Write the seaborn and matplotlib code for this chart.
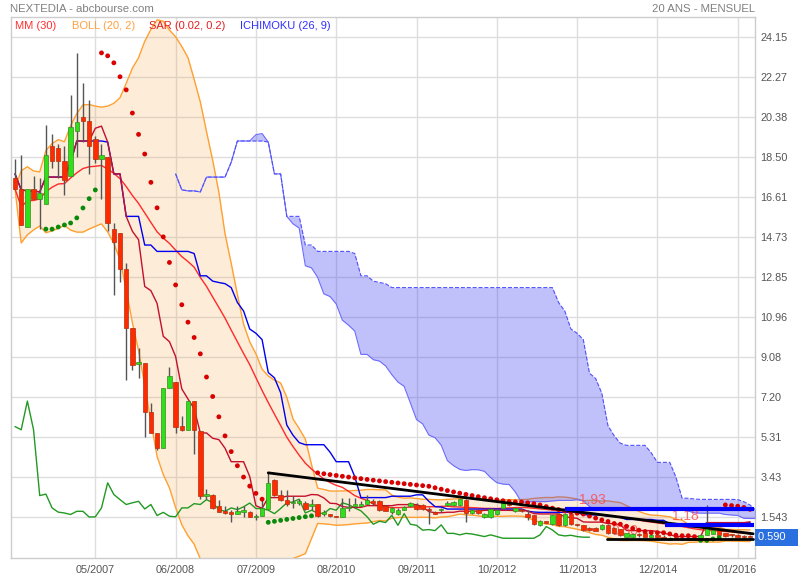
import numpy as np
import pandas as pd
import seaborn as sns
import matplotlib.pyplot as plt
from matplotlib.transforms import blended_transform_factory

# monthly candles, 04/2006 -> 03/2016
opens = [17.5, 17.0, 15.2, 17.0, 16.5, 16.3, 19.0, 18.9, 18.3, 17.6,
         19.7, 20.4, 20.2, 19.35, 18.4, 18.5, 15.1, 14.9, 13.2, 10.45,
         8.75, 8.8, 6.5, 5.5, 4.8, 7.6, 7.9, 5.85, 5.66, 7.0,
         5.6, 2.55, 2.60, 2.08, 1.84, 1.76, 1.66, 1.80, 1.76, 1.55,
         1.58, 1.94, 3.30, 2.60, 2.33, 2.20, 2.21, 2.21, 2.05, 2.13,
         1.70, 1.70, 1.61, 1.55, 1.97, 2.05, 2.05, 2.13, 2.28, 2.28,
         2.05, 1.78, 1.70, 1.89, 2.05, 2.10, 2.10, 1.94, 1.78, 1.86,
         2.10, 2.10, 2.10, 2.36, 1.73, 1.86, 1.55, 1.55, 1.70, 1.97,
         2.17, 1.83, 1.86, 1.70, 1.62, 1.15, 1.31, 1.20, 1.70, 1.15,
         1.66, 1.20, 1.15, 0.97, 1.01, 0.96, 1.17, 1.01, 0.96, 0.62,
         0.62, 0.70, 0.77, 0.62, 0.70, 0.62, 0.46, 0.62, 0.46, 0.46,
         0.46, 0.54, 0.70, 0.74, 0.93, 0.77, 0.70, 0.70, 0.65, 0.65]
highs = [18.4, 18.6, 17.0, 17.6, 17.5, 20.0, 19.6, 19.1, 19.0, 21.4,
         23.4, 22.0, 21.2, 19.5, 19.1, 18.5, 15.4, 14.9, 13.5, 10.45,
         9.5, 8.8, 6.9, 5.5, 7.6, 8.6, 7.9, 6.3, 7.0, 7.0,
         5.6, 2.85, 2.62, 2.32, 2.05, 1.89, 2.05, 2.05, 1.81, 1.70,
         2.36, 3.62, 3.33, 2.83, 2.79, 2.52, 2.40, 2.28, 2.39, 2.13,
         1.89, 1.70, 1.61, 2.44, 2.44, 2.44, 2.30, 2.60, 2.40, 2.36,
         2.10, 2.00, 1.95, 2.05, 2.25, 2.21, 2.17, 2.02, 1.83, 1.97,
         2.30, 2.30, 2.40, 2.38, 1.90, 1.90, 1.75, 1.97, 1.90, 2.25,
         2.25, 2.00, 1.90, 1.86, 1.65, 1.40, 1.34, 1.65, 1.72, 1.72,
         1.68, 1.22, 1.18, 1.05, 1.05, 1.20, 1.20, 1.05, 0.99, 0.80,
         0.78, 0.80, 0.80, 0.80, 0.74, 0.68, 0.58, 0.66, 0.58, 0.58,
         0.58, 0.74, 2.11, 1.00, 0.96, 0.80, 0.74, 0.74, 0.68, 0.68]
lows = [17.0, 15.3, 15.2, 16.5, 15.1, 16.3, 18.0, 17.5, 16.7, 17.6,
        18.5, 19.2, 17.7, 18.2, 16.5, 15.0, 12.0, 12.6, 8.0, 8.45,
        8.1, 5.3, 5.5, 4.7, 4.8, 7.6, 5.5, 5.6, 5.66, 4.5,
        2.4, 2.40, 1.90, 1.77, 1.66, 1.29, 1.66, 1.55, 1.54, 1.42,
        1.58, 1.94, 2.55, 2.28, 2.05, 1.97, 2.10, 1.89, 1.89, 1.55,
        1.61, 1.55, 1.55, 1.55, 1.81, 1.97, 2.05, 2.13, 2.10, 1.81,
        1.81, 1.70, 1.65, 1.85, 2.00, 1.89, 1.89, 1.23, 1.66, 1.78,
        2.05, 2.05, 2.08, 1.31, 1.70, 1.70, 1.50, 1.50, 1.65, 1.94,
        2.05, 1.80, 1.80, 1.39, 1.15, 1.12, 1.25, 1.18, 1.12, 1.12,
        1.15, 1.10, 0.90, 0.88, 0.88, 0.94, 0.74, 0.74, 0.66, 0.60,
        0.60, 0.62, 0.60, 0.60, 0.52, 0.52, 0.44, 0.52, 0.44, 0.44,
        0.44, 0.52, 0.68, 0.72, 0.68, 0.60, 0.62, 0.58, 0.52, 0.52]
closes = [17.0, 15.3, 17.0, 16.5, 16.8, 18.6, 18.3, 18.3, 17.4, 19.9,
          20.15, 20.2, 19.0, 18.4, 18.6, 15.4, 14.5, 13.2, 10.45, 8.7,
          8.83, 6.5, 5.5, 4.8, 7.6, 8.2, 5.8, 5.65, 7.0, 5.65,
          2.55, 2.62, 1.97, 1.77, 1.73, 1.66, 1.81, 1.81, 1.54, 1.55,
          1.97, 3.15, 2.60, 2.36, 2.13, 2.21, 2.28, 1.92, 2.13, 1.61,
          1.76, 1.58, 1.55, 1.97, 1.97, 2.17, 2.13, 2.36, 2.21, 1.89,
          1.81, 1.97, 1.89, 2.02, 2.20, 1.94, 1.94, 1.86, 1.70, 1.94,
          2.21, 2.25, 2.38, 1.73, 1.86, 1.73, 1.70, 1.94, 1.86, 2.21,
          2.12, 1.97, 1.83, 1.55, 1.20, 1.34, 1.28, 1.62, 1.15, 1.70,
          1.20, 1.15, 0.92, 0.95, 0.90, 1.17, 0.77, 0.77, 0.70, 0.77,
          0.74, 0.68, 0.62, 0.70, 0.62, 0.54, 0.54, 0.54, 0.54, 0.54,
          0.54, 0.70, 1.09, 0.93, 0.70, 0.65, 0.68, 0.62, 0.59, 0.59]

x_ticks = [13, 26, 39, 52, 65, 78, 91, 104, 117]
x_labels = ['05/2007', '06/2008', '07/2009', '08/2010', '09/2011',
            '10/2012', '11/2013', '12/2014', '01/2016']
y_ticks = [24.15, 22.27, 20.38, 18.50, 16.61, 14.73, 12.85, 10.96,
           9.08, 7.20, 5.31, 3.43, 1.543]
y_labels = ['24.15', '22.27', '20.38', '18.50', '16.61', '14.73', '12.85',
            '10.96', '9.08', '7.20', '5.31', '3.43', '1.543']
last_price = 0.590

# lines drawn by hand on the chart
trend_x = [41, 119.5]
trend_y = [3.62, 0.75]
support_x = [95.8, 119.5]
support_y = [0.50, 0.50]
level_values = [1.93, 1.18]
level_start = [89.0, 105.2]
level_label_x = [91.3, 106.3]

df = pd.DataFrame({'m': np.arange(len(closes)), 'open': opens, 'high': highs,
                   'low': lows, 'close': closes})
c = df['close']

# indicators (min_periods=1 as on the site)
df['mm30'] = c.rolling(30, min_periods=1).mean()
mid = c.rolling(20, min_periods=1).mean()
sd = c.rolling(20, min_periods=1).std(ddof=0).fillna(0)
df['boll_up'] = mid + 2 * sd
df['boll_dn'] = mid - 2 * sd


def midpoint(n):
    return (df['high'].rolling(n, min_periods=1).max() +
            df['low'].rolling(n, min_periods=1).min()) / 2


df['tenkan'] = midpoint(9)
df['kijun'] = midpoint(26)
cloud = pd.DataFrame({'m': df['m'] + 26,
                      'span_a': (df['tenkan'] + df['kijun']) / 2,
                      'span_b': midpoint(52)})
chikou = pd.DataFrame({'m': df['m'] - 26, 'close': c})
chikou = chikou[chikou['m'] >= 0]

# parabolic SAR (0.02, 0.2)
hi, lo = df['high'].values, df['low'].values
sar_m, sar_v, sar_t = [], [], []
s = lo[:5].min()
ep = hi[5]
af = 0.02
trend = 'up'
sar_m.append(5); sar_v.append(s); sar_t.append(trend)
for i in range(6, len(df)):
    s = s + af * (ep - s)
    if trend == 'up':
        s = min(s, lo[i - 1], lo[i - 2])
        if lo[i] < s:
            trend, s, ep, af = 'down', ep, lo[i], 0.02
        elif hi[i] > ep:
            ep, af = hi[i], min(af + 0.02, 0.2)
    else:
        s = max(s, hi[i - 1], hi[i - 2])
        if hi[i] > s:
            trend, s, ep, af = 'up', ep, hi[i], 0.02
        elif lo[i] < ep:
            ep, af = lo[i], min(af + 0.02, 0.2)
    sar_m.append(i); sar_v.append(s); sar_t.append(trend)
sar = pd.DataFrame({'m': sar_m, 'sar': sar_v, 'trend': sar_t})

sns.set_style('white')
plt.rcParams['font.family'] = ['Liberation Sans', 'DejaVu Sans']

fig = plt.figure(figsize=(8, 5.8), dpi=100)
ax = fig.add_axes([11 / 800, 22 / 580, 744 / 800, 541 / 580])

# bollinger
ax.fill_between(df['m'], df['boll_dn'], df['boll_up'], color='#f5a040',
                alpha=0.2, lw=0, zorder=1)
sns.lineplot(data=df, x='m', y='boll_up', ax=ax, color='#ffa030', lw=1, zorder=2)
sns.lineplot(data=df, x='m', y='boll_dn', ax=ax, color='#ffa030', lw=1, zorder=2)

# ichimoku cloud
ax.fill_between(cloud['m'], cloud['span_a'], cloud['span_b'], color='#4040f0',
                alpha=0.33, lw=0, zorder=3)
sns.lineplot(data=cloud, x='m', y='span_a', ax=ax, color='#6a6aff', lw=0.8, zorder=3)
sns.lineplot(data=cloud, x='m', y='span_b', ax=ax, color='#5050ff', lw=0.8,
             linestyle='--', zorder=3)

sns.lineplot(data=chikou, x='m', y='close', ax=ax, color='#229922', lw=1, zorder=4)
sns.lineplot(data=df, x='m', y='mm30', ax=ax, color='#ff2a2a', lw=1, zorder=4)
sns.lineplot(data=df, x='m', y='kijun', ax=ax, color='#0000ee', lw=1, zorder=4)
sns.lineplot(data=df, x='m', y='tenkan', ax=ax, color='#c4102c', lw=1, zorder=4)

# candles
up = df['close'] >= df['open']
ax.vlines(df['m'], df['low'], df['high'], color='#555555', lw=1, zorder=5)
body = (df['close'] - df['open']).abs().clip(lower=0.05)
ax.bar(df['m'], body, bottom=df[['open', 'close']].min(axis=1), width=0.72,
       color=np.where(up, '#2ee01a', '#ff2a00'),
       edgecolor=np.where(up, '#3a8a20', '#b03010'), lw=0.5, zorder=6)

# SAR dots
sns.scatterplot(data=sar, x='m', y='sar', hue='trend', ax=ax,
                palette={'up': '#0a8a0a', 'down': '#d80000'}, s=12,
                linewidth=0, legend=False, zorder=7)

# hand drawn lines
sns.lineplot(x=trend_x, y=trend_y, ax=ax, color='black', lw=2, zorder=8)
sns.lineplot(x=support_x, y=support_y, ax=ax, color='black', lw=2, zorder=8)
for start, lev, lx in zip(level_start, level_values, level_label_x):
    ax.plot([start, 119.6], [lev, lev], color='#0000ff', lw=3, zorder=8,
            solid_capstyle='butt')
    ax.text(lx, lev + 0.08, f'{lev:.2f}', color='#ff4040', alpha=0.75,
            fontsize=10, va='bottom', zorder=4)
ax.text(96.5, 0.55, '0.50', color='#ff4040', alpha=0.75, fontsize=10,
        va='bottom', zorder=4)

ax.set_xlim(-0.65, 119.8)
ax.set_ylim(-0.39, 25.09)
ax.set_xticks(x_ticks)
ax.set_xticklabels(x_labels)
ax.yaxis.tick_right()
ax.set_yticks(y_ticks)
ax.set_yticklabels(y_labels)
ax.set_xlabel('')
ax.set_ylabel('')
ax.tick_params(axis='both', length=0, labelsize=7.8, labelcolor='#555555')
ax.tick_params(axis='x', pad=5)
ax.tick_params(axis='y', pad=4)
ax.grid(True, color='#dedede', lw=1)
ax.set_axisbelow(True)
for sp in ax.spines.values():
    sp.set_color('#cccccc')
    sp.set_linewidth(1)

# legend row
legend_items = [('MM (30)', '#ff3030', 0.0), ('BOLL (20, 2)', '#ffa040', 9.2),
                ('SAR (0.02, 0.2)', '#e02020', 21.7), ('ICHIMOKU (26, 9)', '#3030ff', 36.4)]
for txt, col, xm in legend_items:
    ax.text(xm, 24.65, txt, color=col, fontsize=8, va='center', zorder=9)

fig.text(10 / 800, 1 - 9 / 580, 'NEXTEDIA - abcbourse.com', color='#808080',
         fontsize=8.2, va='center')
fig.text(755 / 800, 1 - 9 / 580, '20 ANS - MENSUEL', color='#808080',
         fontsize=8.2, va='center', ha='right')

trans = blended_transform_factory(ax.transAxes, ax.transData)
ax.text(1.004, last_price, f'{last_price:.3f}   ', transform=trans, color='white',
        fontsize=8, va='center', ha='left', zorder=10,
        bbox=dict(boxstyle='square,pad=0.3', fc='#2a6fe0', ec='none'))

fig.savefig('out.png', dpi=100)
